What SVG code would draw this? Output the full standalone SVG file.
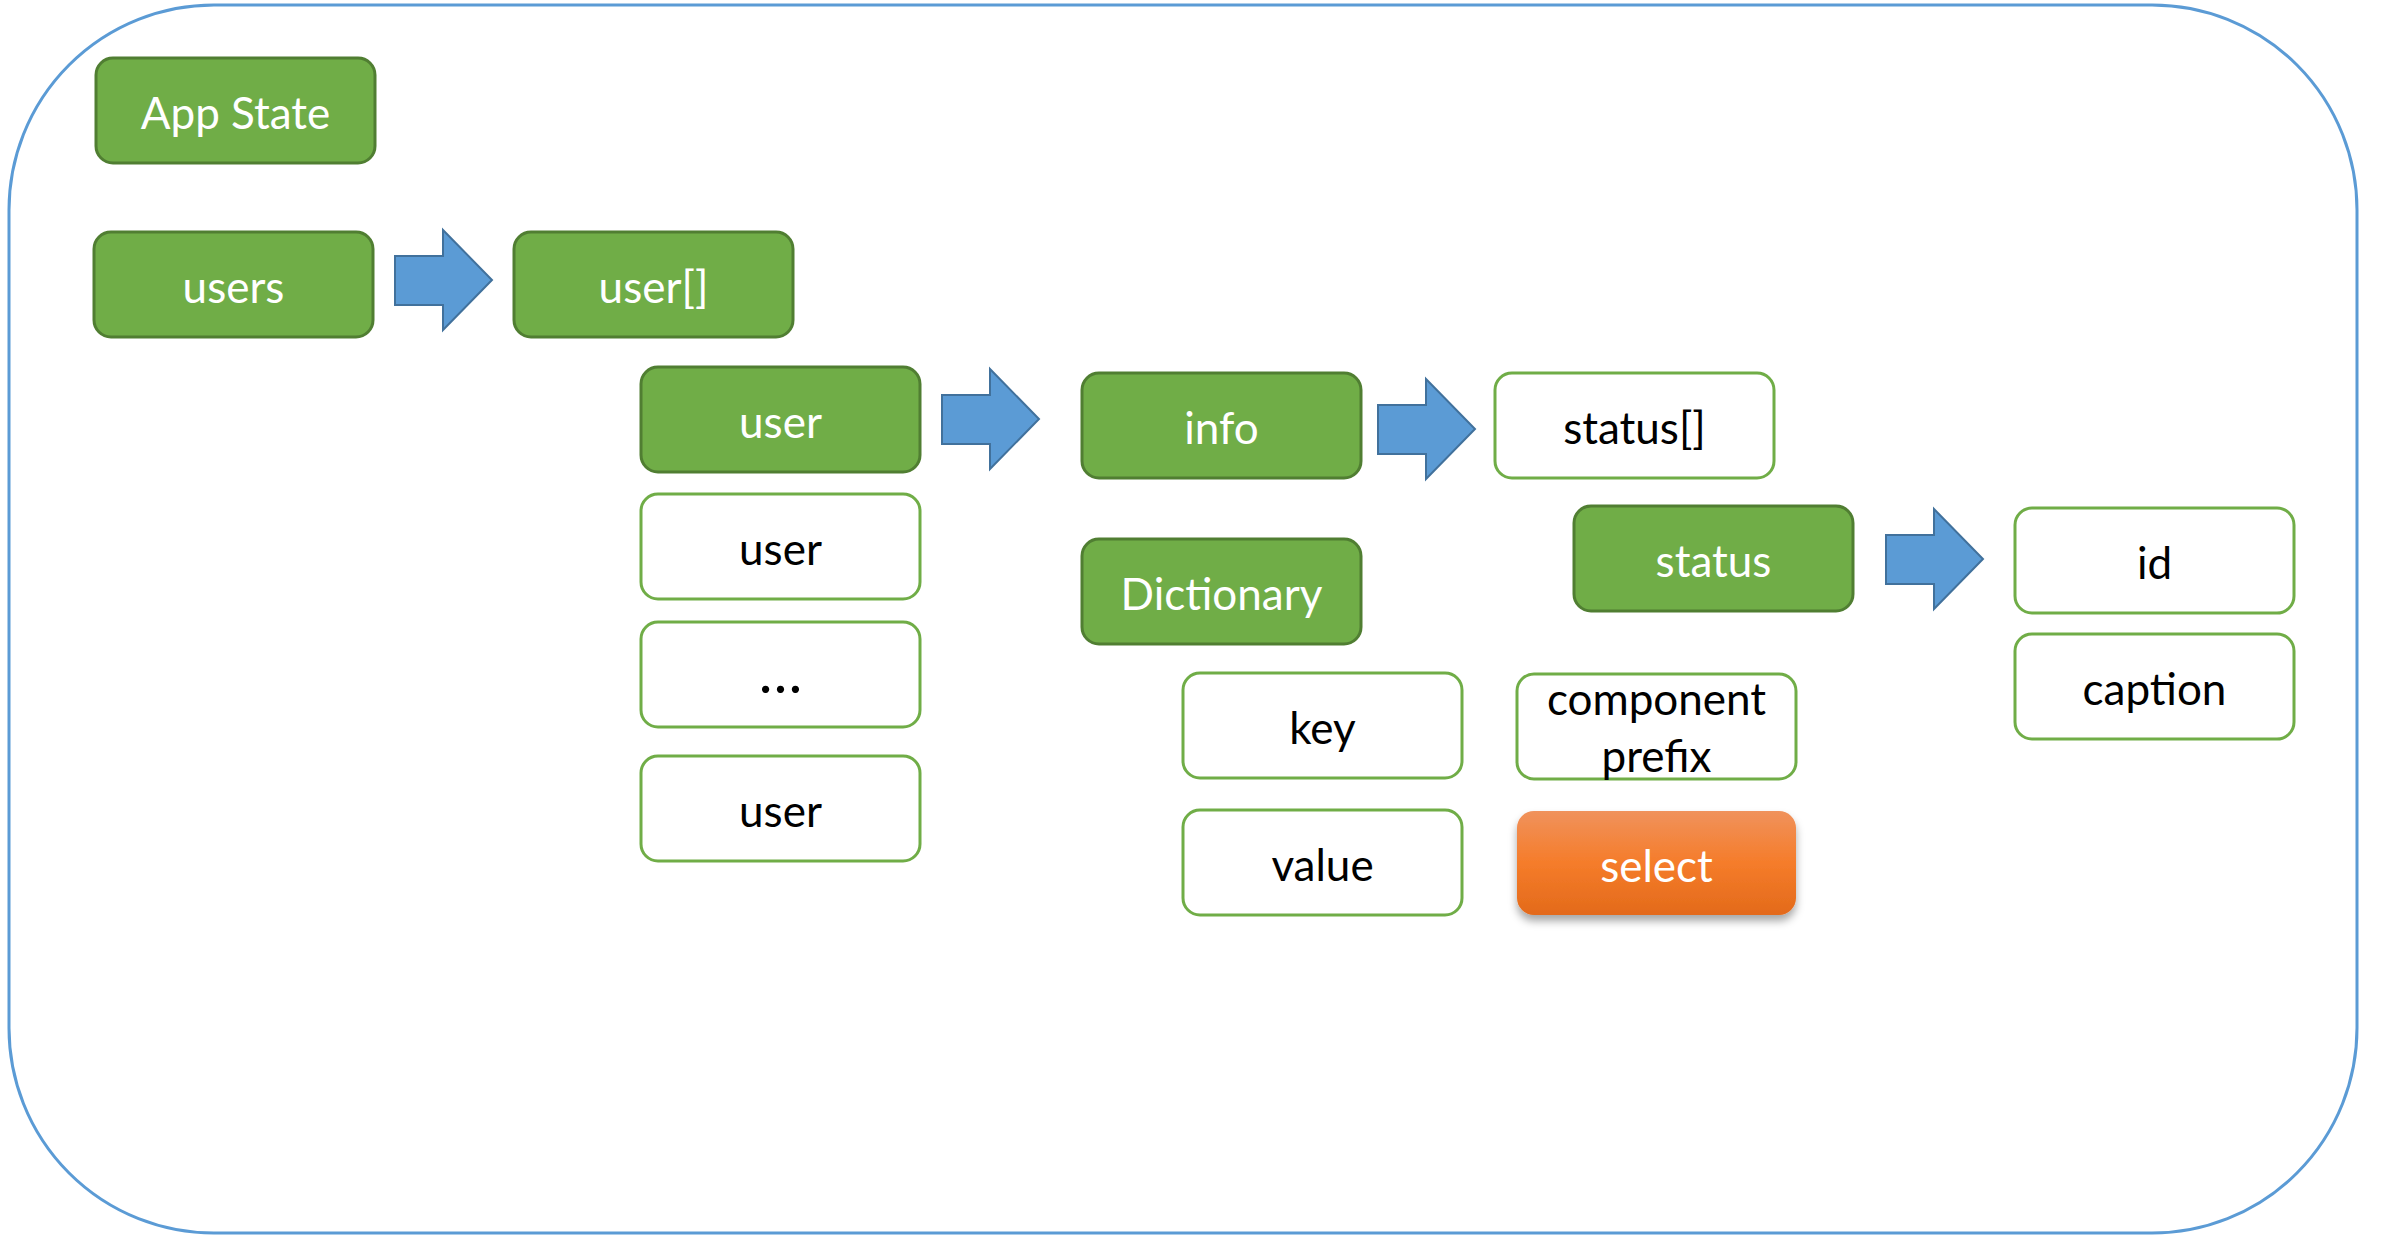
<svg xmlns="http://www.w3.org/2000/svg" width="2382" height="1235" viewBox="0 0 2382 1235">
<style>
.g{fill:#70AD47;stroke:#507E32;stroke-width:3}
.w{fill:#FFFFFF;stroke:#70AD47;stroke-width:3}
.o{fill:url(#og);filter:url(#sh)}
.tw{font-family:Lato,"Open Sans",sans-serif;font-size:44px;fill:#FFFFFF;text-anchor:middle}
.tb{font-family:Lato,"Open Sans",sans-serif;font-size:44px;fill:#000000;text-anchor:middle}
.el{font-size:58px}
.arr{fill:#5B9BD5;stroke:#41719C;stroke-width:2}
</style>
<defs>
<linearGradient id="og" x1="0" y1="0" x2="0" y2="1">
<stop offset="0" stop-color="#F0925C"/>
<stop offset="0.5" stop-color="#F57C2A"/>
<stop offset="1" stop-color="#E36A1B"/>
</linearGradient>
<filter id="sh" x="-10%" y="-10%" width="120%" height="140%">
<feDropShadow dx="0" dy="6" stdDeviation="4" flood-color="#000" flood-opacity="0.35"/>
</filter>
<path id="ar" d="M0,26 H48 V0 L97,50 L48,100 V75 H0 Z"/>
</defs>
<rect x="0" y="0" width="2382" height="1235" fill="#FFFFFF"/>
<rect id="frame" x="9" y="5" width="2348" height="1228" rx="205" ry="205" fill="none" stroke="#5B9BD5" stroke-width="3"/>

<g id="connectors">
<use href="#ar" class="arr" transform="translate(395,230)"/>
<use href="#ar" class="arr" transform="translate(942,369)"/>
<use href="#ar" class="arr" transform="translate(1378,379)"/>
<use href="#ar" class="arr" transform="translate(1886,509)"/>
</g>

<g id="app-state"><rect class="g" x="96" y="58" width="279" height="105" rx="17"/><text class="tw" x="235.5" y="129">App State</text></g>
<g id="users"><rect class="g" x="94" y="232" width="279" height="105" rx="17"/><text class="tw" x="233.5" y="303">users</text></g>
<g id="user-array"><rect class="g" x="514" y="232" width="279" height="105" rx="17"/><text class="tw" x="653.5" y="303">user[]</text></g>
<g id="user-main"><rect class="g" x="641" y="367" width="279" height="105" rx="17"/><text class="tw" x="780.5" y="438">user</text></g>
<g id="info"><rect class="g" x="1082" y="373" width="279" height="105" rx="17"/><text class="tw" x="1221.5" y="444">info</text></g>
<g id="status-array"><rect class="w" x="1495" y="373" width="279" height="105" rx="17"/><text class="tb" x="1634.5" y="444">status[]</text></g>
<g id="user-2"><rect class="w" x="641" y="494" width="279" height="105" rx="17"/><text class="tb" x="780.5" y="565">user</text></g>
<g id="dictionary"><rect class="g" x="1082" y="539" width="279" height="105" rx="17"/><text class="tw" x="1221.5" y="610">Dictionary</text></g>
<g id="status"><rect class="g" x="1574" y="506" width="279" height="105" rx="17"/><text class="tw" x="1713.5" y="577">status</text></g>
<g id="id"><rect class="w" x="2015" y="508" width="279" height="105" rx="17"/><text class="tb" x="2154.5" y="579">id</text></g>
<g id="caption"><rect class="w" x="2015" y="634" width="279" height="105" rx="17"/><text class="tb" x="2154.5" y="705">caption</text></g>
<g id="ellipsis"><rect class="w" x="641" y="622" width="279" height="105" rx="17"/><text class="tb el" x="780.5" y="693">…</text></g>
<g id="key"><rect class="w" x="1183" y="673" width="279" height="105" rx="17"/><text class="tb" x="1322.5" y="744">key</text></g>
<g id="component-prefix"><rect class="w" x="1517" y="674" width="279" height="105" rx="17"/><text class="tb" x="1656.5" y="715">component</text><text class="tb" x="1656.5" y="772">prefix</text></g>
<g id="user-3"><rect class="w" x="641" y="756" width="279" height="105" rx="17"/><text class="tb" x="780.5" y="827">user</text></g>
<g id="value"><rect class="w" x="1183" y="810" width="279" height="105" rx="17"/><text class="tb" x="1322.5" y="881">value</text></g>
<g id="select"><rect class="o" x="1517" y="811" width="279" height="104" rx="17"/><text class="tw" x="1656.5" y="882">select</text></g>
</svg>
